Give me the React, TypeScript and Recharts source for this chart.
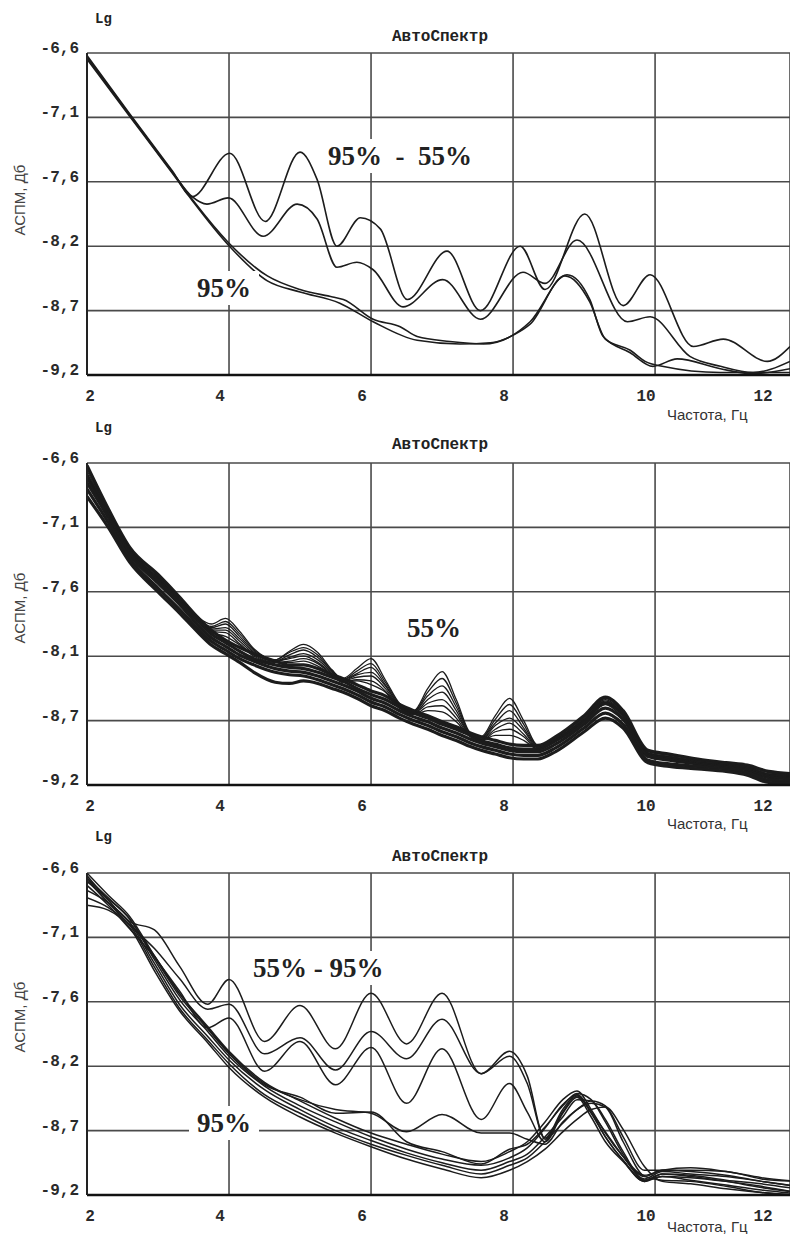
import React from 'react';
import { LineChart, Line, XAxis, YAxis, CartesianGrid } from 'recharts';

// axes
const X_TICKS = [2, 4, 6, 8, 10, 12];
const Y_TICKS = [-6.6, -7.12, -7.64, -8.16, -8.68, -9.2];
const Y_LABELS_1 = ['-6,6', '-7,1', '-7,6', '-8,2', '-8,7', '-9,2'];
const Y_LABELS_2 = ['-6,6', '-7,1', '-7,6', '-8,1', '-8,7', '-9,2'];

// panel 1 — [Hz, Lg] key points
const P1_A = [[2.0, -6.62], [2.6, -7.09], [3.2, -7.55], [3.48, -7.76], [4.01, -7.41], [4.51, -7.96], [5.0, -7.40], [5.24, -7.62], [5.52, -8.16], [5.85, -7.93], [6.13, -8.02], [6.51, -8.59], [7.07, -8.20], [7.54, -8.68], [8.10, -8.16], [8.45, -8.51], [9.01, -7.90], [9.55, -8.64], [9.93, -8.39], [10.54, -8.97], [10.96, -8.91], [11.58, -9.09], [11.9, -8.97]];
const P1_B = [[2.0, -6.63], [2.6, -7.10], [3.2, -7.56], [3.48, -7.76], [3.69, -7.82], [3.99, -7.77], [4.48, -8.08], [4.96, -7.82], [5.24, -7.94], [5.52, -8.33], [5.80, -8.29], [6.03, -8.35], [6.45, -8.65], [7.01, -8.43], [7.54, -8.75], [8.14, -8.37], [8.45, -8.46], [8.90, -8.11], [9.61, -8.77], [9.93, -8.73], [10.49, -9.05], [10.92, -9.13], [11.38, -9.18], [11.9, -9.09]];
const P1_C = [[2.0, -6.64], [2.6, -7.10], [3.2, -7.56], [3.52, -7.81], [3.99, -8.13], [4.54, -8.40], [5.0, -8.51], [5.46, -8.57], [5.61, -8.59], [6.03, -8.75], [6.41, -8.81], [6.65, -8.89], [7.11, -8.93], [7.58, -8.95], [7.96, -8.89], [8.24, -8.77], [8.76, -8.39], [9.08, -8.59], [9.27, -8.89], [9.65, -9.02], [9.97, -9.13], [10.31, -9.07], [10.92, -9.15], [11.38, -9.19], [11.9, -9.15]];
const P1_D = [[2.0, -6.65], [2.6, -7.11], [3.2, -7.57], [3.52, -7.82], [3.99, -8.15], [4.54, -8.44], [5.0, -8.53], [5.56, -8.62], [6.03, -8.77], [6.65, -8.92], [7.25, -8.95], [7.68, -8.94], [8.03, -8.87], [8.24, -8.79], [8.73, -8.40], [9.08, -8.61], [9.30, -8.91], [9.65, -9.00], [9.86, -9.09], [10.10, -9.13], [10.92, -9.18], [11.9, -9.18]];

// panel 2 — shared frequencies
const F2 = [2.0, 2.3, 2.6, 3.0, 3.3, 3.55, 3.75, 3.95, 4.15, 4.35, 4.65, 4.85, 5.05, 5.25, 5.45, 5.6, 5.8, 6.0, 6.2, 6.4, 6.6, 6.8, 7.0, 7.2, 7.4, 7.55, 7.75, 7.95, 8.15, 8.35, 8.6, 9.0, 9.3, 9.55, 9.9, 10.2, 10.6, 11.0, 11.3, 11.6, 12.0];
// dense band
const P2_B1 = [-6.62, -6.97, -7.28, -7.50, -7.68, -7.84, -7.95, -8.03, -8.09, -8.14, -8.20, -8.23, -8.23, -8.26, -8.31, -8.34, -8.39, -8.44, -8.48, -8.55, -8.60, -8.64, -8.69, -8.73, -8.78, -8.81, -8.84, -8.87, -8.88, -8.88, -8.81, -8.64, -8.49, -8.60, -8.92, -8.95, -8.99, -9.02, -9.04, -9.09, -9.11];
const P2_B2 = [-6.70, -7.01, -7.31, -7.55, -7.71, -7.87, -7.98, -8.05, -8.12, -8.18, -8.23, -8.25, -8.26, -8.29, -8.33, -8.36, -8.42, -8.47, -8.51, -8.57, -8.62, -8.66, -8.71, -8.75, -8.80, -8.84, -8.87, -8.90, -8.91, -8.91, -8.84, -8.68, -8.54, -8.63, -8.95, -8.98, -9.01, -9.04, -9.06, -9.12, -9.13];
const P2_B3 = [-6.76, -7.04, -7.34, -7.57, -7.74, -7.90, -8.01, -8.08, -8.15, -8.20, -8.26, -8.28, -8.29, -8.32, -8.36, -8.39, -8.44, -8.50, -8.54, -8.60, -8.65, -8.69, -8.74, -8.78, -8.83, -8.86, -8.89, -8.92, -8.93, -8.93, -8.87, -8.71, -8.58, -8.67, -8.97, -9.00, -9.03, -9.05, -9.08, -9.14, -9.15];
const P2_B4 = [-6.81, -7.08, -7.37, -7.61, -7.78, -7.93, -8.04, -8.11, -8.18, -8.23, -8.29, -8.31, -8.32, -8.35, -8.39, -8.42, -8.47, -8.53, -8.57, -8.63, -8.68, -8.72, -8.77, -8.81, -8.86, -8.89, -8.92, -8.95, -8.96, -8.96, -8.90, -8.74, -8.62, -8.71, -9.00, -9.03, -9.05, -9.07, -9.10, -9.16, -9.17];
const P2_B5 = [-6.87, -7.12, -7.40, -7.64, -7.81, -7.96, -8.07, -8.14, -8.21, -8.29, -8.37, -8.38, -8.36, -8.38, -8.42, -8.45, -8.50, -8.56, -8.60, -8.66, -8.71, -8.75, -8.80, -8.84, -8.89, -8.92, -8.95, -8.98, -8.99, -8.99, -8.93, -8.77, -8.66, -8.74, -9.02, -9.05, -9.07, -9.09, -9.12, -9.18, -9.19];
// nested peaks
const P2_K1 = [-6.64, -6.98, -7.29, -7.51, -7.69, -7.84, -7.90, -7.855, -7.96, -8.10, -8.19, -8.12, -8.065, -8.13, -8.27, -8.34, -8.26, -8.18, -8.35, -8.54, -8.60, -8.42, -8.285, -8.51, -8.78, -8.81, -8.64, -8.50, -8.68, -8.88, -8.82, -8.65, -8.49, -8.61, -8.93, -8.96, -9.00, -9.03, -9.05, -9.10, -9.12];
const P2_K2 = [-6.66, -6.99, -7.30, -7.52, -7.70, -7.85, -7.92, -7.88, -7.98, -8.11, -8.19, -8.13, -8.09, -8.15, -8.28, -8.35, -8.28, -8.22, -8.37, -8.55, -8.61, -8.45, -8.34, -8.54, -8.79, -8.82, -8.67, -8.55, -8.71, -8.89, -8.83, -8.66, -8.50, -8.62, -8.94, -8.97, -9.01, -9.04, -9.06, -9.11, -9.13];
const P2_K3 = [-6.68, -7.00, -7.30, -7.53, -7.70, -7.86, -7.93, -7.90, -8.00, -8.12, -8.20, -8.15, -8.11, -8.17, -8.28, -8.35, -8.30, -8.25, -8.39, -8.56, -8.61, -8.48, -8.40, -8.57, -8.79, -8.82, -8.70, -8.60, -8.74, -8.89, -8.83, -8.67, -8.51, -8.63, -8.94, -8.97, -9.01, -9.03, -9.06, -9.11, -9.12];
const P2_K4 = [-6.69, -7.00, -7.31, -7.53, -7.71, -7.86, -7.94, -7.93, -8.02, -8.13, -8.20, -8.17, -8.14, -8.19, -8.29, -8.36, -8.31, -8.29, -8.40, -8.56, -8.62, -8.51, -8.45, -8.60, -8.80, -8.83, -8.72, -8.66, -8.76, -8.90, -8.84, -8.68, -8.52, -8.64, -8.95, -8.98, -9.02, -9.04, -9.07, -9.12, -9.13];
const P2_K5 = [-6.71, -7.01, -7.31, -7.54, -7.71, -7.86, -7.95, -7.95, -8.04, -8.14, -8.20, -8.18, -8.16, -8.21, -8.30, -8.36, -8.33, -8.32, -8.42, -8.57, -8.62, -8.54, -8.51, -8.63, -8.80, -8.83, -8.75, -8.70, -8.79, -8.90, -8.84, -8.68, -8.53, -8.64, -8.95, -8.98, -9.02, -9.05, -9.07, -9.12, -9.14];
const P2_K6 = [-6.72, -7.02, -7.32, -7.54, -7.72, -7.87, -7.96, -7.97, -8.06, -8.15, -8.21, -8.20, -8.18, -8.22, -8.31, -8.37, -8.35, -8.36, -8.44, -8.57, -8.63, -8.57, -8.56, -8.66, -8.81, -8.84, -8.77, -8.75, -8.81, -8.91, -8.85, -8.69, -8.54, -8.65, -8.96, -8.99, -9.03, -9.05, -9.08, -9.13, -9.14];
const P2_K7 = [-6.73, -7.03, -7.33, -7.55, -7.73, -7.87, -7.97, -8.00, -8.07, -8.16, -8.21, -8.21, -8.20, -8.24, -8.31, -8.37, -8.36, -8.39, -8.45, -8.58, -8.63, -8.60, -8.61, -8.69, -8.81, -8.84, -8.80, -8.80, -8.84, -8.91, -8.85, -8.70, -8.55, -8.66, -8.96, -8.99, -9.03, -9.06, -9.08, -9.13, -9.15];

// panel 3 — shared frequencies
const F3 = [2.0, 2.3, 2.6, 2.95, 3.3, 3.7, 4.0, 4.5, 5.0, 5.5, 6.0, 6.5, 7.0, 7.55, 7.95, 8.2, 8.45, 8.7, 8.9, 9.1, 9.3, 9.55, 9.85, 10.1, 10.5, 11.0, 11.5, 12.0];
// 55% - 95% transition curves
const P3_U1 = [-6.62, -6.82, -6.99, -7.06, -7.35, -7.66, -7.46, -7.96, -7.67, -8.02, -7.57, -7.98, -7.57, -8.22, -8.04, -8.24, -8.75, -8.53, -8.40, -8.53, -8.69, -8.89, -9.07, -9.01, -9.03, -9.05, -9.09, -9.13];
const P3_U2 = [-6.66, -6.84, -7.02, -7.21, -7.45, -7.70, -7.66, -8.06, -7.93, -8.19, -7.88, -8.10, -7.78, -8.22, -8.08, -8.30, -8.74, -8.51, -8.39, -8.54, -8.73, -8.92, -9.08, -9.03, -9.04, -9.08, -9.11, -9.15];
const P3_U3 = [-6.70, -6.86, -7.05, -7.28, -7.55, -7.85, -7.77, -8.20, -7.96, -8.31, -8.01, -8.46, -8.02, -8.59, -8.30, -8.53, -8.77, -8.54, -8.41, -8.57, -8.77, -8.93, -9.09, -9.05, -9.06, -9.09, -9.13, -9.18];
const P3_U4 = [-6.64, -6.84, -7.00, -7.27, -7.57, -7.85, -8.05, -8.30, -8.43, -8.51, -8.54, -8.69, -8.55, -8.70, -8.70, -8.75, -8.79, -8.61, -8.51, -8.44, -8.48, -8.73, -9.00, -9.00, -9.00, -9.01, -9.07, -9.09];
// 95% curves
const P3_L1 = [-6.60, -6.78, -6.95, -7.27, -7.57, -7.84, -8.04, -8.29, -8.44, -8.58, -8.70, -8.79, -8.87, -8.93, -8.85, -8.77, -8.61, -8.43, -8.36, -8.51, -8.70, -8.89, -9.05, -9.00, -9.01, -9.04, -9.09, -9.13];
const P3_L2 = [-6.67, -6.81, -6.97, -7.30, -7.62, -7.88, -8.08, -8.32, -8.48, -8.61, -8.73, -8.83, -8.91, -8.96, -8.90, -8.82, -8.66, -8.47, -8.39, -8.53, -8.73, -8.92, -9.09, -9.03, -9.05, -9.09, -9.14, -9.18];
const P3_L3 = [-6.74, -6.84, -7.00, -7.33, -7.66, -7.92, -8.11, -8.35, -8.51, -8.65, -8.76, -8.86, -8.94, -9.00, -8.93, -8.87, -8.73, -8.57, -8.43, -8.44, -8.59, -8.85, -9.08, -9.05, -9.08, -9.12, -9.16, -9.19];
const P3_L4 = [-6.80, -6.88, -7.02, -7.36, -7.69, -7.95, -8.14, -8.39, -8.54, -8.68, -8.79, -8.88, -8.96, -9.03, -8.96, -8.90, -8.77, -8.62, -8.51, -8.46, -8.49, -8.77, -9.05, -9.08, -9.09, -9.13, -9.18, -9.20];
const P3_L5 = [-6.86, -6.90, -7.04, -7.39, -7.71, -7.97, -8.17, -8.41, -8.57, -8.70, -8.81, -8.91, -8.99, -9.06, -9.00, -8.93, -8.83, -8.69, -8.59, -8.51, -8.49, -8.67, -8.97, -9.09, -9.11, -9.15, -9.18, -9.20];
const P3_L6 = [-6.64, -6.80, -6.97, -7.28, -7.59, -7.86, -8.06, -8.31, -8.41, -8.54, -8.53, -8.77, -8.85, -8.95, -8.83, -8.79, -8.65, -8.48, -8.38, -8.43, -8.61, -8.87, -9.04, -9.00, -8.98, -9.01, -9.06, -9.09];

type Pt = { f: number; v: number };
const pairs = (ps: number[][]): Pt[] => ps.map(([f, v]) => ({ f, v }));
const zip = (fs: number[], vs: number[]): Pt[] => fs.map((f, i) => ({ f, v: vs[i] }));

const PANEL_1 = [P1_A, P1_B, P1_C, P1_D].map((p) => ({ pts: pairs(p), w: 1.6 }));
const PANEL_2 = [
  ...[P2_B1, P2_B2, P2_B3, P2_B4, P2_B5].map((v) => ({ pts: zip(F2, v), w: 3.2 })),
  ...[P2_K1, P2_K2, P2_K3, P2_K4, P2_K5, P2_K6, P2_K7].map((v) => ({ pts: zip(F2, v), w: 1.3 })),
];
const PANEL_3 = [P3_U1, P3_U2, P3_U3, P3_U4, P3_L1, P3_L2, P3_L3, P3_L4, P3_L5, P3_L6].map((v) => ({
  pts: zip(F3, v),
  w: 1.5,
}));

const MONO = '"Liberation Mono", "DejaVu Sans Mono", monospace';
const SANS = '"Liberation Sans", Arial, sans-serif';
const SERIF = '"Liberation Serif", "Times New Roman", serif';
const TICK_FONT = { fontFamily: MONO, fontSize: 16, fontWeight: 700, fill: '#2a2a2a' };

const XTick = (props: any) => {
  const { x, y, payload } = props;
  const v = payload.value;
  const lx = v === 2 ? x + 3 : Math.min(x - 9, 763);
  return (
    <text x={lx} y={y} dy={24} textAnchor="middle" style={TICK_FONT}>
      {v}
    </text>
  );
};

const YTick = (props: any) => {
  const { x, y, payload, labels } = props;
  const i = Y_TICKS.findIndex((t) => Math.abs(t - payload.value) < 1e-6);
  return (
    <text x={x} y={y} dy={0} textAnchor="end" style={TICK_FONT}>
      {labels[i]}
    </text>
  );
};

function SpectrumPanel({ top, series, yLabels }: { top: number; series: { pts: Pt[]; w: number }[]; yLabels: string[] }) {
  return (
    <div style={{ position: 'absolute', left: 0, top }}>
      <LineChart width={790} height={410} margin={{ top: 53, right: 0, bottom: 0, left: 0 }}>
        <CartesianGrid stroke="#4a4a4a" strokeWidth={1.6} />
        <XAxis
          type="number"
          dataKey="f"
          domain={[2, 11.9]}
          allowDataOverflow
          ticks={X_TICKS}
          interval={0}
          height={35}
          tickSize={0}
          tickLine={false}
          axisLine={{ stroke: '#111', strokeWidth: 2.5 }}
          tick={(p: any) => <XTick {...p} />}
        />
        <YAxis
          type="number"
          domain={[-9.2, -6.6]}
          allowDataOverflow
          ticks={Y_TICKS}
          interval={0}
          width={87}
          tickSize={0}
          tickMargin={8}
          tickLine={false}
          axisLine={{ stroke: '#222', strokeWidth: 2 }}
          tick={(p: any) => <YTick {...p} labels={yLabels} />}
        />
        {series.map((s, i) => (
          <Line
            key={i}
            data={s.pts}
            dataKey="v"
            type="monotone"
            stroke="#1c1c1c"
            strokeWidth={s.w}
            dot={false}
            isAnimationActive={false}
          />
        ))}
      </LineChart>
    </div>
  );
}

const abs = (left: number, top: number, extra: React.CSSProperties = {}): React.CSSProperties => ({
  position: 'absolute',
  left,
  top,
  transform: 'translateY(-50%)',
  whiteSpace: 'pre',
  ...extra,
});

const noteStyle: React.CSSProperties = {
  fontFamily: SERIF,
  fontSize: 27,
  fontWeight: 700,
  color: '#222',
  background: '#fff',
  lineHeight: '34px',
  padding: '0 8px',
};

export default function App() {
  const panelTops = [0, 410, 820];
  const titleY = [37, 445, 857];
  const lgY = [19, 428, 837];
  const yNameY = [200, 608, 1017];
  const xNameY = [414, 823, 1226];

  return (
    <div style={{ position: 'absolute', left: 0, top: 0, width: 790, height: 1234, background: '#fff', overflow: 'hidden' }}>
      <SpectrumPanel top={panelTops[0]} series={PANEL_1} yLabels={Y_LABELS_1} />
      <SpectrumPanel top={panelTops[1]} series={PANEL_2} yLabels={Y_LABELS_2} />
      <SpectrumPanel top={panelTops[2]} series={PANEL_3} yLabels={Y_LABELS_1} />

      {panelTops.map((_, i) => (
        <React.Fragment key={i}>
          <div style={abs(95, lgY[i], { fontFamily: MONO, fontSize: 14, fontWeight: 700, color: '#222' })}>Lg</div>
          <div style={abs(392, titleY[i], { fontFamily: MONO, fontSize: 16, fontWeight: 700, color: '#222' })}>АвтоСпектр</div>
          <div
            style={{
              position: 'absolute',
              left: 19,
              top: yNameY[i],
              transform: 'translate(-50%, -50%) rotate(-90deg)',
              whiteSpace: 'nowrap',
              fontFamily: SANS,
              fontSize: 15,
              color: '#444',
            }}
          >
            АСПМ, Дб
          </div>
          <div style={abs(667, xNameY[i], { fontFamily: SANS, fontSize: 15, color: '#333' })}>Частота, Гц</div>
        </React.Fragment>
      ))}

      <div style={abs(320, 156, noteStyle)}>{'95%  -  55%'}</div>
      <div style={abs(189, 288, noteStyle)}>95%</div>
      <div style={abs(399, 628, noteStyle)}>55%</div>
      <div style={abs(245, 968, noteStyle)}>{'55% - 95%'}</div>
      <div style={abs(189, 1123, noteStyle)}>95%</div>
    </div>
  );
}
